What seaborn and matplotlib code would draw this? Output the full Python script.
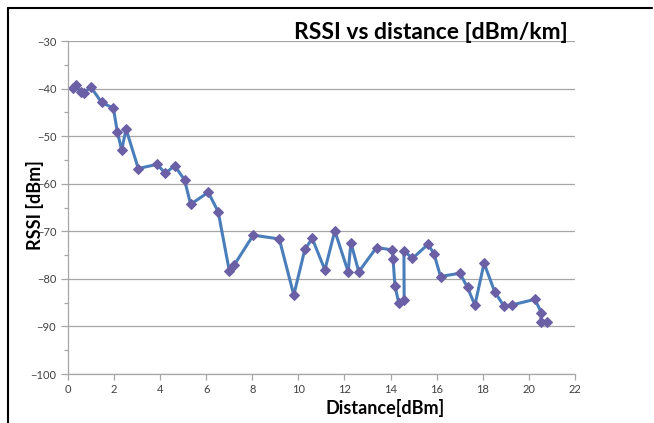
import matplotlib
matplotlib.use("Agg")
import matplotlib.pyplot as plt
from matplotlib.lines import Line2D
from matplotlib.ticker import MultipleLocator
import seaborn as sns
import pandas as pd

distance = [0.20, 0.33, 0.55, 0.69, 0.98, 1.46, 1.97, 2.14, 2.33, 2.52,
            3.05, 3.87, 4.22, 4.63, 5.06, 5.32, 6.09, 6.52, 7.00, 7.21,
            8.04, 9.17, 9.80, 10.28, 10.60, 11.15, 11.58, 12.16, 12.28, 12.62,
            13.39, 14.07, 14.11, 14.19, 14.36, 14.59, 14.58, 14.95, 15.63, 15.89,
            16.17, 17.01, 17.34, 17.66, 18.06, 18.52, 18.92, 19.25, 20.26, 20.55,
            20.52, 20.77]
rssi = [-39.8, -39.3, -40.7, -41.0, -39.6, -42.9, -44.1, -49.1, -52.9, -48.5,
        -56.8, -55.9, -57.8, -56.2, -59.2, -64.3, -61.8, -65.9, -78.3, -77.1,
        -70.8, -71.6, -83.4, -73.8, -71.5, -78.1, -69.9, -78.5, -72.4, -78.5,
        -73.4, -73.9, -75.9, -81.5, -85.1, -84.4, -74.1, -75.7, -72.7, -74.8,
        -79.5, -78.8, -81.8, -85.5, -76.7, -82.7, -85.7, -85.5, -84.3, -87.1,
        -89.0, -89.0]

title = "RSSI vs distance [dBm/km]"
xlabel = "Distance[dBm]"
ylabel = "RSSI [dBm]"

df = pd.DataFrame({"distance": distance, "rssi": rssi})

sns.set_theme(style="white")
plt.rcParams['font.family'] = ['Lato', 'DejaVu Sans']

fig = plt.figure(figsize=(6.54, 4.23), dpi=100)
ax = fig.add_axes([0.104, 0.1158, 0.775, 0.787])

sns.lineplot(data=df, x="distance", y="rssi", sort=False, estimator=None,
             color="#4A7EBB", linewidth=2.2, marker="D", markersize=5,
             markerfacecolor="#6B5FA5", markeredgecolor="#6B5FA5", ax=ax)

ax.set_xlim(0, 22)
ax.set_ylim(-100, -30)
ax.xaxis.set_major_locator(MultipleLocator(2))
ax.yaxis.set_major_locator(MultipleLocator(10))
ax.yaxis.set_minor_locator(MultipleLocator(5))
ax.grid(axis="y", which="major", color="#A6A6A6", linewidth=0.9)
ax.grid(axis="x", visible=False)
ax.set_axisbelow(True)

for s in ["top", "right"]:
    ax.spines[s].set_visible(False)
for s in ["left", "bottom"]:
    ax.spines[s].set_color("#A6A6A6")
    ax.spines[s].set_linewidth(0.9)

ax.tick_params(axis="both", which="both", direction="out", colors="#A6A6A6",
               labelcolor="#404040", labelsize=8)
ax.tick_params(axis="y", which="major", length=5, width=0.9, left=True)
ax.tick_params(axis="y", which="minor", length=3, width=0.9, left=True)
ax.tick_params(axis="x", which="major", length=4, width=0.9, bottom=True)

ax.set_xlabel(xlabel, fontsize=13, fontweight="bold", color="black")
ax.set_ylabel(ylabel, fontsize=13, fontweight="bold", color="black")
ax.xaxis.set_label_coords(0.625, -0.102)
ax.yaxis.set_label_coords(-0.065, 0.507)
ax.xaxis.label.set_va("center")
ax.yaxis.label.set_va("center")

fig.text(0.659, 0.924, title, fontsize=16.5, fontweight="bold", color="black",
         ha="center", va="center")

fig.add_artist(Line2D([0.012, 0.997], [0.981, 0.981], color="black", linewidth=1.5,
                      transform=fig.transFigure))
fig.add_artist(Line2D([0.012, 0.012], [0.0, 0.981], color="black", linewidth=1.5,
                      transform=fig.transFigure))

fig.savefig("out.png", dpi=100, facecolor="white")
